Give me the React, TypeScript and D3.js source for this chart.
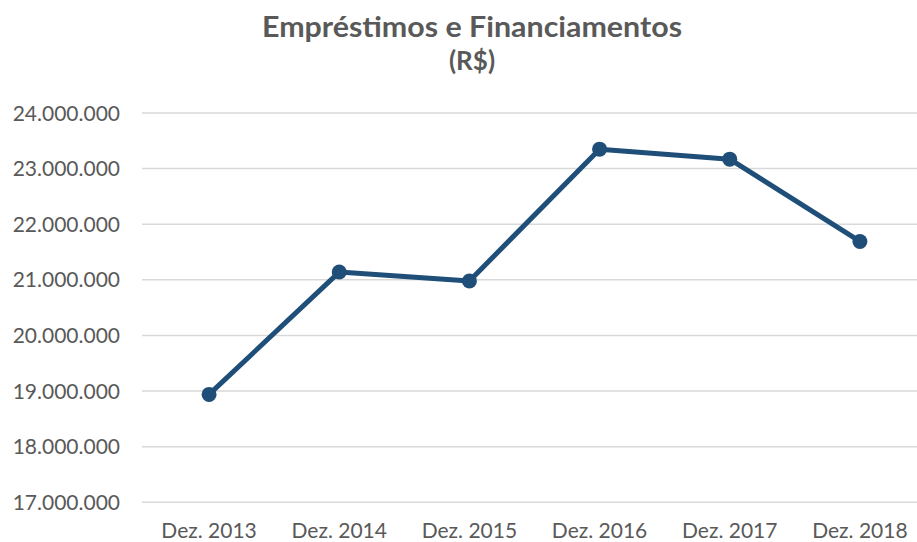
import React from "react";
import * as d3 from "d3";

const categories = ["Dez. 2013", "Dez. 2014", "Dez. 2015", "Dez. 2016", "Dez. 2017", "Dez. 2018"];
const values = [18940000, 21140000, 20980000, 23350000, 23170000, 21690000];
const yTicks = [17000000, 18000000, 19000000, 20000000, 21000000, 22000000, 23000000, 24000000];
const titleLines = ["Empréstimos e Financiamentos", "(R$)"];

const W = 917;
const H = 542;

const fmt = (v: number) => {
  const s = Math.round(v).toString();
  return s.replace(/\B(?=(\d{3})+(?!\d))/g, ".");
};

export default function App() {
  const x = d3.scaleBand<string>().domain(categories).range([144, 925]);
  const y = d3.scaleLinear().domain([17000000, 24000000]).range([502.3, 113]);
  const line = d3
    .line<number>()
    .x((_, i) => (x(categories[i]) as number) + x.bandwidth() / 2)
    .y((d) => y(d));
  const font = "Lato, 'Open Sans', sans-serif";
  const textColor = "#595959";
  return (
    <svg
      width={W}
      height={H}
      style={{ position: "absolute", left: 0, top: 0, background: "#fff" }}
      fontFamily={font}
    >
      <text x={472} y={37} textAnchor="middle" fontSize={29} fontWeight="bold" fill={textColor} textLength={420} lengthAdjust="spacingAndGlyphs">
        {titleLines[0]}
      </text>
      <text x={472} y={70} textAnchor="middle" fontSize={26} fontWeight="bold" fill={textColor}>
        {titleLines[1]}
      </text>
      {yTicks.map((t) => (
        <g key={t}>
          <line x1={142} x2={W} y1={y(t)} y2={y(t)} stroke="#d9d9d9" strokeWidth={1.5} />
          <text x={120} y={y(t) + 7.5} textAnchor="end" fontSize={21} fill={textColor}>
            {fmt(t)}
          </text>
        </g>
      ))}
      {categories.map((c) => (
        <text
          key={c}
          x={(x(c) as number) + x.bandwidth() / 2}
          y={538}
          textAnchor="middle"
          fontSize={21}
          fill={textColor}
        >
          {c}
        </text>
      ))}
      <path d={line(values) as string} fill="none" stroke="#1f4e79" strokeWidth={5} strokeLinejoin="round" />
      {values.map((v, i) => (
        <circle
          key={i}
          cx={(x(categories[i]) as number) + x.bandwidth() / 2}
          cy={y(v)}
          r={7.5}
          fill="#1f4e79"
        />
      ))}
    </svg>
  );
}
